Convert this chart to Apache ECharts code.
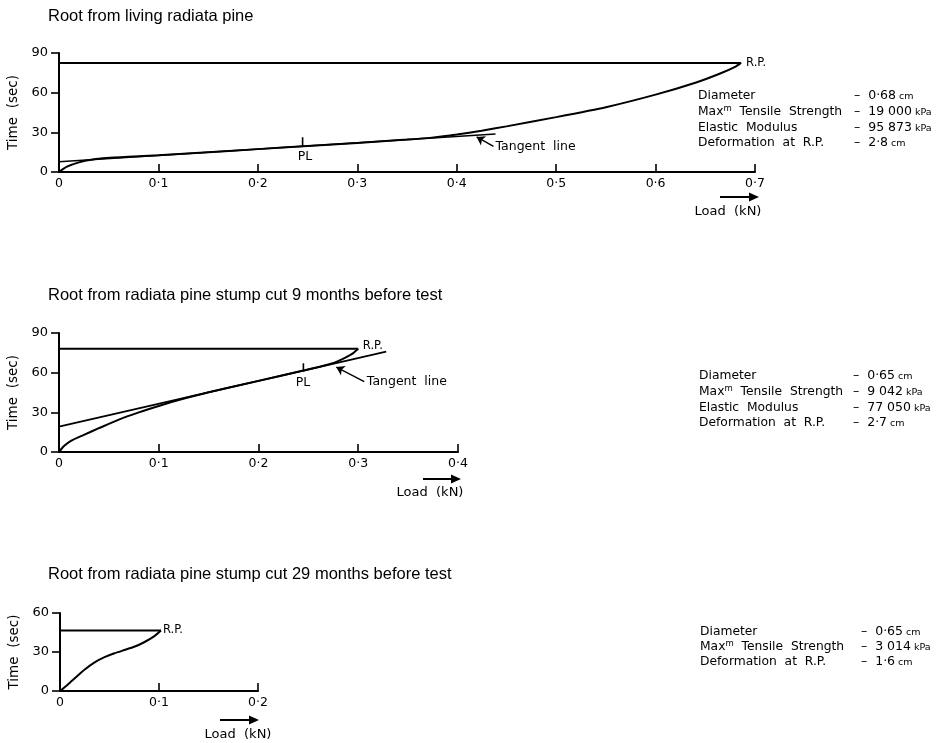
<!DOCTYPE html>
<html><head><meta charset="utf-8">
<script src="https://cdn.jsdelivr.net/npm/echarts@6/dist/echarts.min.js"></script>
<style>html,body{margin:0;padding:0;background:#fff}#c{width:944px;height:743px}</style>
</head><body><div id="c"></div>
<script>
// ---------- data ----------
const titles = [
  'Root from living radiata pine',
  'Root from radiata pine stump cut 9 months before test',
  'Root from radiata pine stump cut 29 months before test'
];
const loadTicks1 = ['0','0·1','0·2','0·3','0·4','0·5','0·6','0·7'];
const loadTicks2 = ['0','0·1','0·2','0·3','0·4'];
const loadTicks3 = ['0','0·1','0·2'];
const timeTicks = ['0','30','60','90'];

const curve1Load = [0, 0.008, 0.02, 0.034, 0.048, 0.07, 0.1, 0.15, 0.2, 0.25, 0.3, 0.35, 0.375, 0.4, 0.425, 0.45, 0.5, 0.55, 0.6, 0.64, 0.665, 0.68, 0.686];
const curve1Time = [0, 4, 7.3, 9.4, 10.5, 11.5, 12.7, 15, 17.3, 19.6, 22, 24.5, 26, 28.3, 31.2, 34.5, 41.5, 49, 58.5, 67.5, 74.5, 79.5, 82.5];
const tangent1 = [[0, 7.8], [0.439, 28.7]];
const pl1 = [[0.245, 19.4], [0.245, 26.2]];

const curve2Load = [0, 0.005, 0.012, 0.025, 0.04, 0.06, 0.08, 0.1, 0.12, 0.15, 0.2, 0.245, 0.265, 0.278, 0.288, 0.295, 0.3];
const curve2Time = [0, 4.5, 8.5, 13, 18, 24.5, 30, 34.8, 39.3, 45.2, 53.8, 61.6, 65.2, 68.2, 71.8, 74.8, 78];
const tangent2 = [[0, 19.2], [0.328, 76]];
const pl2 = [[0.245, 60.8], [0.245, 67.2]];

const curve3Load = [0, 0.008, 0.016, 0.025, 0.035, 0.045, 0.055, 0.065, 0.075, 0.085, 0.095, 0.102];
const curve3Time = [0, 5, 10.5, 16.5, 22, 26, 29, 31.5, 34, 37.5, 42, 46.5];

const notes1 = [[0.2475, 11.5, 'PL', 'c'], [0.691, 82.5, 'R.P.', 'l'], [0.439, 19.3, 'Tangent  line', 'l']];
const notes2 = [[0.2445, 52.3, 'PL', 'c'], [0.3046, 80.3, 'R.P.', 'l'], [0.3086, 53.3, 'Tangent  line', 'l']];
const notes3 = [[0.104, 46.7, 'R.P.', 'l']];
const arrow1 = [[0.437, 19.3], [0.42, 26.5]];
const arrow2 = [[0.306, 53.3], [0.278, 64.2]];

const info1Labels = ['Diameter', 'Max^m Tensile Strength', 'Elastic Modulus', 'Deformation at R.P.'];
const info1Values = [['0·68', 'cm'], ['19 000', 'kPa'], ['95 873', 'kPa'], ['2·8', 'cm']];
const info2Labels = ['Diameter', 'Max^m Tensile Strength', 'Elastic Modulus', 'Deformation at R.P.'];
const info2Values = [['0·65', 'cm'], ['9 042', 'kPa'], ['77 050', 'kPa'], ['2·7', 'cm']];
const info3Labels = ['Diameter', 'Max^m Tensile Strength', 'Deformation at R.P.'];
const info3Values = [['0·65', 'cm'], ['3 014', 'kPa'], ['1·6', 'cm']];

// ---------- layout ----------
const F = 'DejaVu Sans';
const FT = 'Liberation Sans';
const grids = [
  {left: 59, top: 53, width: 696, height: 119},
  {left: 59, top: 333, width: 399, height: 119},
  {left: 60, top: 613, width: 198, height: 78}
];
const xMax = [0.7, 0.4, 0.2];
const yMax = [90, 90, 60];
const xLabels = [loadTicks1, loadTicks2, loadTicks3];

function pts(xs, ys) { return xs.map((x, i) => [x, ys[i]]); }

const xAxes = grids.map((g, i) => ({
  gridIndex: i, type: 'value', min: 0, max: xMax[i], interval: 0.1,
  splitLine: {show: false},
  axisLine: {show: true, onZero: false, lineStyle: {color: '#000', width: 2}},
  axisTick: {show: true, inside: true, length: 8, lineStyle: {color: '#000', width: 1.6}},
  axisLabel: {show: true, margin: 5, color: '#000', fontFamily: F, fontSize: 12.5,
    showMinLabel: true, showMaxLabel: true,
    formatter: v => xLabels[i][Math.round(v * 10)]}
}));
const yAxes = grids.map((g, i) => ({
  gridIndex: i, type: 'value', min: 0, max: yMax[i], interval: 30,
  name: 'Time  (sec)', nameLocation: 'middle', nameGap: 39,
  nameTextStyle: {color: '#000', fontFamily: F, fontSize: 13.5},
  splitLine: {show: false},
  axisLine: {show: true, onZero: false, lineStyle: {color: '#000', width: 2}},
  axisTick: {show: true, inside: false, length: 8, lineStyle: {color: '#000', width: 1.6}},
  axisLabel: {show: true, margin: 11, color: '#000', fontFamily: F, fontSize: 13,
    showMinLabel: true, showMaxLabel: true,
    formatter: v => timeTicks[Math.round(v / 30)]}
}));

function lineSeries(i, data, smooth, w) {
  return {type: 'line', xAxisIndex: i, yAxisIndex: i, data: data, symbol: 'none',
    smooth: smooth || false, lineStyle: {color: '#000', width: w || 2}, silent: true, z: 3};
}
function noteSeries(i, notes, arrow) {
  const s = {
    type: 'scatter', xAxisIndex: i, yAxisIndex: i, symbolSize: 0, silent: true, z: 5,
    itemStyle: {opacity: 1, color: '#000'},
    data: notes.map(n => ({
      value: [n[0], n[1]],
      label: {show: true, position: [0, 0], formatter: n[2], opacity: 1,
        align: n[3] === 'c' ? 'center' : 'left', verticalAlign: 'middle',
        color: '#000', fontFamily: F,
        fontSize: n[2] === 'R.P.' ? 11.5 : 12.5}
    }))
  };
  if (arrow) {
    s.markLine = {silent: true, symbol: ['none', 'arrow'], symbolSize: 8,
      label: {show: false}, lineStyle: {color: '#000', width: 1.4, type: 'solid', opacity: 1},
      itemStyle: {color: '#000', opacity: 1},
      data: [[{coord: arrow[0]}, {coord: arrow[1]}]]};
  }
  return s;
}

const curves = [pts(curve1Load, curve1Time), pts(curve2Load, curve2Time), pts(curve3Load, curve3Time)];
const series = [];
curves.forEach((c, i) => {
  series.push(lineSeries(i, c, 0.2));
  const last = c[c.length - 1];
  series.push(lineSeries(i, [last, [0, last[1]]]));
});
series.push(lineSeries(0, tangent1, false, 1.6));
series.push(lineSeries(1, tangent2, false, 1.8));
series.push(lineSeries(0, pl1, false, 1.6));
series.push(lineSeries(1, pl2, false, 1.6));
series.push(noteSeries(0, notes1, arrow1));
series.push(noteSeries(1, notes2, arrow2));
series.push(noteSeries(2, notes3, null));

// ---------- graphics ----------
const graphics = [];
const titleY = [17, 296, 575];
titles.forEach((t, i) => graphics.push({type: 'text', left: 48, top: titleY[i] - 9,
  style: {text: t, fill: '#000', font: '16.5px "' + FT + '"'}}));

function infoBlock(labels, values, x, ys, dashX) {
  labels.forEach((lab, k) => {
    const parts = lab.split('^m');
    const txt = parts.length > 1 ? '{a|' + parts[0] + '}{s|m}{a|' + parts[1].replace(/ /g, '  ') + '}' : '{a|' + lab.replace(/ /g, '  ') + '}';
    graphics.push({type: 'text', x: x, y: ys[k], style: {
      text: txt, fill: '#000', verticalAlign: 'middle',
      rich: {a: {fontFamily: F, fontSize: 12.3, fill: '#000'},
             s: {fontFamily: F, fontSize: 8.5, fill: '#000', verticalAlign: 'top', padding: [0, 0, 7, 0]}}}});
    graphics.push({type: 'text', x: dashX, y: ys[k], style: {
      text: '{v|–  ' + values[k][0] + '}{u| ' + values[k][1] + '}', fill: '#000', verticalAlign: 'middle',
      rich: {v: {fontFamily: F, fontSize: 12.5, fill: '#000'},
             u: {fontFamily: F, fontSize: 9.5, fill: '#000', padding: [2, 0, 0, 0]}}}});
  });
}
infoBlock(info1Labels, info1Values, 698, [96, 112, 128, 143], 854);
infoBlock(info2Labels, info2Values, 699, [376, 392, 408, 423], 853);
infoBlock(info3Labels, info3Values, 700, [632, 647, 662], 861);

function loadLabel(cx, cy, ax1, ax2, ay) {
  graphics.push({type: 'line', shape: {x1: ax1, y1: ay, x2: ax2 - 7, y2: ay}, style: {stroke: '#000', lineWidth: 2}});
  graphics.push({type: 'polygon', shape: {points: [[ax2 - 10, ay - 4.5], [ax2, ay], [ax2 - 10, ay + 4.5]]}, style: {fill: '#000'}});
  graphics.push({type: 'text', x: cx, y: cy, style: {text: 'Load  (kN)', fill: '#000', align: 'center', verticalAlign: 'middle', font: '13px "' + F + '"'}});
}
loadLabel(728, 212, 720, 759, 197);
loadLabel(430, 493, 423, 461, 479);
loadLabel(238, 735, 220, 259, 720);

const chart = echarts.init(document.getElementById('c'));
chart.setOption({
  animation: false,
  backgroundColor: '#fff',
  grid: grids.map(g => Object.assign({containLabel: false, outerBoundsMode: 'none'}, g)),
  xAxis: xAxes,
  yAxis: yAxes,
  series: series,
  graphic: graphics
});
</script></body></html>
